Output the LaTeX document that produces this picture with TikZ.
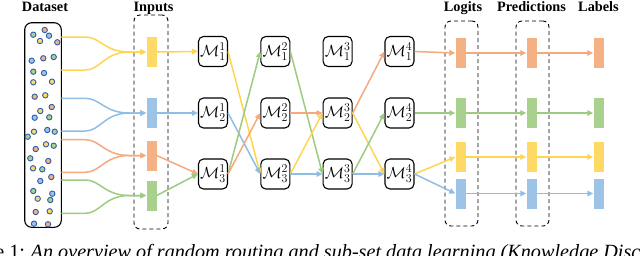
\RequirePackage{fix-cm}
\documentclass[tikz,border=0pt]{standalone}
\usepackage{fontspec}
\setmainfont{Liberation Serif}
\DeclareMathSizes{16}{16}{12}{10}
\usetikzlibrary{arrows.meta,calc}
\definecolor{cy}{HTML}{FFD966}
\definecolor{co}{HTML}{F4B183}
\definecolor{cg}{HTML}{A9D18E}
\definecolor{cb}{HTML}{9DC3E6}
\definecolor{ly}{HTML}{FFD54F}
\definecolor{lo}{HTML}{F4A97E}
\definecolor{lg}{HTML}{9DCB80}
\definecolor{lb}{HTML}{90BDE6}
\definecolor{dotb}{HTML}{2E5DA8}
\begin{document}
\begin{tikzpicture}[x=1pt,y=-1pt,
  mod/.style={draw, line width=1.1pt, rounded corners=5pt, minimum width=29pt, minimum height=30pt, inner sep=0pt, font=\fontsize{16}{18}\selectfont},
  bar/.style={minimum width=10pt, minimum height=30pt, inner sep=0pt, draw=none},
  dbox/.style={draw, dash pattern=on 4pt off 3pt, line width=0.9pt, rounded corners=6pt, inner sep=0pt},
  ttl/.style={font=\fontsize{14.3}{16}\selectfont\bfseries, anchor=base, inner sep=0pt},
  con/.style={line width=1.5pt, -{Triangle[length=6pt,width=5.5pt]}},
  dot/.style={draw=dotb, line width=0.9pt}
]
\useasboundingbox (0,0) rectangle (640,255);

% titles
\node[ttl] (tds) at (45,11.5) {Dataset};
\node[ttl] (tin) at (153.5,11.5) {Inputs};
\node[ttl] (tlg) at (463,11.5) {Logits};
\node[ttl] (tpr) at (531.5,11.5) {Predictions};
\node[ttl] (tlb) at (598.5,11.5) {Labels};

% dashed boxes
\node[dbox, minimum width=34pt, minimum height=214pt] (inbox) at (151,122) {};
\node[dbox, minimum width=33pt, minimum height=205pt] (lgbox) at (461.5,123.5) {};
\node[dbox, minimum width=33pt, minimum height=205pt] (prbox) at (532.5,123.5) {};

% dataset
\node[draw, line width=1.1pt, rounded corners=7pt, minimum width=36.6pt, minimum height=204.6pt, inner sep=0pt] (ds) at (43,125) {};
\foreach \x/\y/\c in {33.3/34.7/cg, 44.7/30/co, 49/35.7/cb, 40/41/cy, 57.3/42.3/co,
  31.7/60.7/cb, 43.3/58.3/co, 53.7/57/cg, 33.3/71.7/cg, 44/73/cb, 33.3/82.3/cy, 52/81.7/cy,
  34.7/96.7/co, 45.3/95.3/cy, 51.7/107/co, 40.3/111/cy, 34.7/117.7/cb, 49.3/117.3/cg,
  27.7/136.7/cg, 34/131.7/cy, 47.3/130/cb, 54.7/131.7/cg, 35.7/149/co, 46/144.3/cy, 53.7/145.7/cg,
  30.3/158.3/cg, 48.3/161/co, 33/168.3/cy, 42.3/169.3/cg, 40.3/181/cb, 51.3/177/co,
  33.3/191/cg, 52.3/193.7/cb, 37.7/198.7/cy, 50.3/200/cg, 35.7/212/co, 49.7/211.3/cy,
  34/223.7/cb, 48/224.3/co}
  \draw[dot, fill=\c] (\x,\y) circle[radius=2.7pt];

% input bars
\node[bar, fill=cy] (iy) at (151.5,52) {};
\node[bar, fill=cb] (ib) at (151.5,113) {};
\node[bar, fill=co] (io) at (151.5,155.5) {};
\node[bar, fill=cg] (ig) at (151.5,195.5) {};

% modules
\node[mod] (m11) at (213,51.5) {$\mathcal{M}^1_1$};
\node[mod] (m21) at (213,113) {$\mathcal{M}^1_2$};
\node[mod] (m31) at (213,174) {$\mathcal{M}^1_3$};
\node[mod] (m12) at (275.3,51.5) {$\mathcal{M}^2_1$};
\node[mod] (m22) at (275.3,113) {$\mathcal{M}^2_2$};
\node[mod] (m32) at (275.3,174) {$\mathcal{M}^2_3$};
\node[mod] (m13) at (337.6,51.5) {$\mathcal{M}^3_1$};
\node[mod] (m23) at (337.6,113) {$\mathcal{M}^3_2$};
\node[mod] (m33) at (337.6,174) {$\mathcal{M}^3_3$};
\node[mod] (m14) at (399.5,51.5) {$\mathcal{M}^4_1$};
\node[mod] (m24) at (399.5,113) {$\mathcal{M}^4_2$};
\node[mod] (m34) at (399.5,174) {$\mathcal{M}^4_3$};

% logits, predictions, labels
\node[bar, fill=co] (go) at (460.5,53) {};
\node[bar, fill=cg] (gg) at (460.5,113) {};
\node[bar, fill=cy] (gy) at (460.5,157) {};
\node[bar, fill=cb] (gb) at (460.5,193.5) {};
\node[bar, fill=co] (po) at (531.5,53) {};
\node[bar, fill=cg] (pg) at (531.5,113) {};
\node[bar, fill=cy] (py) at (531.5,157) {};
\node[bar, fill=cb] (pb) at (531.5,193.5) {};
\node[bar, fill=co] (bo) at (598.5,53) {};
\node[bar, fill=cg] (bg) at (598.5,113) {};
\node[bar, fill=cy] (by) at (598.5,157) {};
\node[bar, fill=cb] (bb) at (598.5,193.5) {};

% dataset connectors
\coordinate (dy1) at (61.3,37);
\coordinate (dy2) at (61.3,70);
\coordinate (db1) at (61.3,98.3);
\coordinate (db2) at (61.3,131);
\coordinate (do1) at (61.3,139.7);
\coordinate (do2) at (61.3,172.3);
\coordinate (dg1) at (61.3,180);
\coordinate (dg2) at (61.3,213.3);
\foreach \s/\t/\c in {dy1/iy/ly, dy2/iy/ly, db1/ib/lb, db2/ib/lb, do1/io/lo, do2/io/lo, dg1/ig/lg, dg2/ig/lg}
  \draw[con, draw=\c] (\s) -- ++(24,0) .. controls +(15,0) and +(-25,0) .. ($(\t.west)+(-17,0)$) -- (\t.west);

% inputs to first column
\draw[con, draw=ly] (iy.east) -- (m11.west);
\draw[con, draw=lb] (ib.east) -- (m21.west);
\draw[con, draw=lo] (io.east) -- (m31.west);
\draw[con, draw=lg] (ig.east) -- (m31.west);

% column 1 -> 2
\draw[con, draw=ly] (m11.east) -- (m32.west);
\draw[con, draw=lb] (m21.east) -- (m32.west);
\draw[con, draw=lg] (m31.east) -- (m12.west);
\draw[con, draw=lo] (m31.east) -- (m22.west);

% column 2 -> 3
\draw[con, draw=lg] (m12.east) -- (m33.west);
\draw[con, draw=lo] (m22.east) -- (m23.west);
\draw[con, draw=ly] (m32.east) -- (m23.west);
\draw[con, draw=lb] (m32.east) -- (m33.west);

% column 3 -> 4
\draw[con, draw=lo] (m23.east) -- (m14.west);
\draw[con, draw=ly] (m23.east) -- (m34.west);
\draw[con, draw=lg] (m33.east) -- (m24.west);
\draw[con, draw=lb] (m33.east) -- (m34.west);

% column 4 -> logits
\draw[con, draw=lo] (m14.east) -- (go.west);
\draw[con, draw=lg] (m24.east) -- (gg.west);
\draw[con, draw=ly] (m34.east) -- (gy.west);
\draw[con, draw=lb] (m34.east) -- (gb.west);

% logits -> predictions -> labels
\foreach \c/\a/\b/\d in {lo/go/po/bo, lg/gg/pg/bg, ly/gy/py/by, lb/gb/pb/bb}{
  \draw[con, draw=\c] (\a.east) -- (\b.west);
  \draw[con, draw=\c] (\b.east) -- (\d.west);
}

% caption (cut off)
\node[anchor=base east, inner sep=0pt, font=\fontsize{20.2}{22}\selectfont] (cap1) at (25.2,258.5) {Figure 1:};
\node[anchor=base west, inner sep=0pt, font=\fontsize{20.2}{22}\selectfont\itshape] (cap2) at (30.5,258.5) {An overview of random routing and sub-set data learning (Knowledge Discovery};
\end{tikzpicture}
\end{document}
